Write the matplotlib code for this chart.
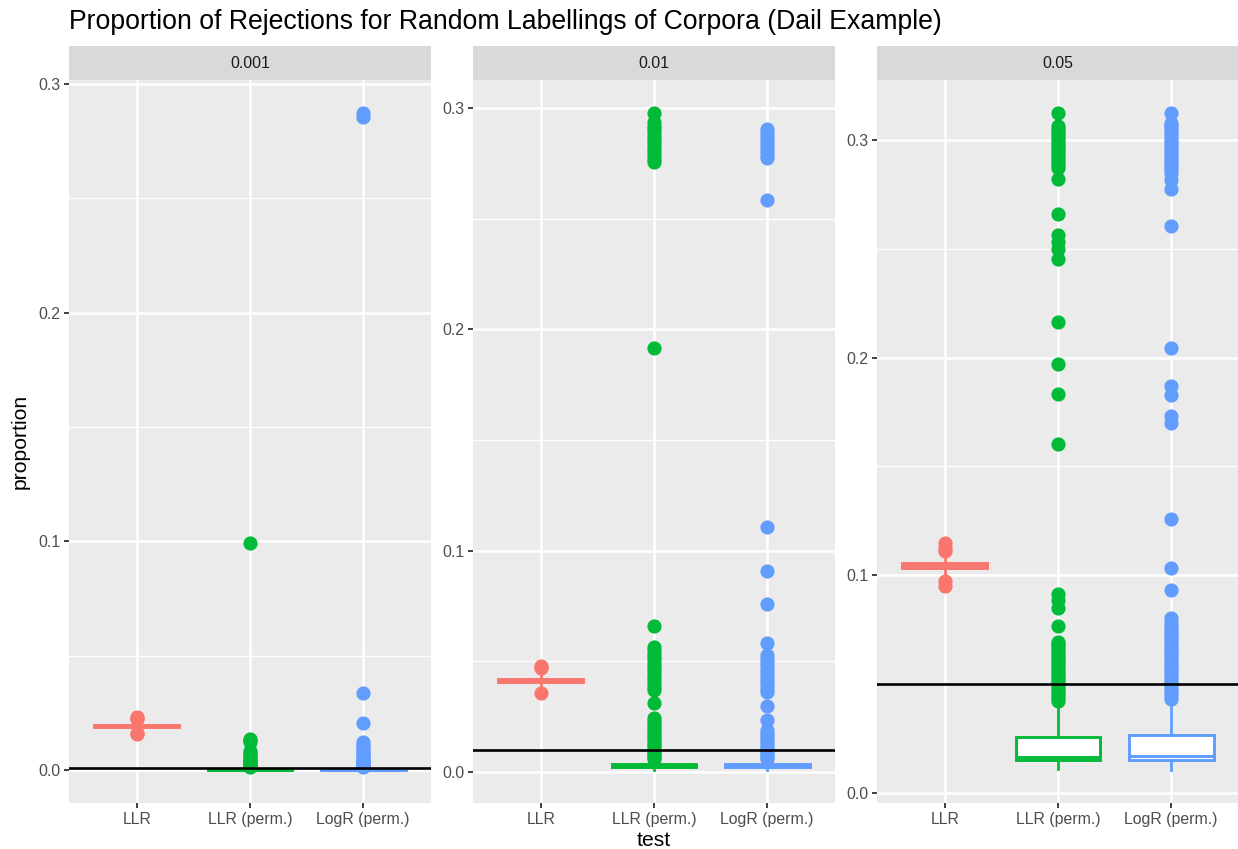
import numpy as np
import matplotlib.pyplot as plt
from matplotlib.ticker import FormatStrFormatter

plt.rcParams['font.family'] = ['Liberation Sans', 'DejaVu Sans']

# Categories and facet levels
tests = ['LLR', 'LLR (perm.)', 'LogR (perm.)']
alpha_labels = ['0.001', '0.01', '0.05']
alpha_values = [0.001, 0.01, 0.05]
colors = ['#F8766D', '#00BA38', '#619CFF']

# Box summaries: (lower whisker, q1, median, q3, upper whisker)
stats_001 = [[0.0180, 0.0188, 0.0193, 0.0199, 0.0208],
             [0.0000, 0.0000, 0.0001, 0.0005, 0.0010],
             [0.0000, 0.0000, 0.0001, 0.0005, 0.0010]]
stats_01 = [[0.0392, 0.0408, 0.0414, 0.0420, 0.0440],
            [0.0009, 0.0023, 0.0030, 0.0036, 0.0055],
            [0.0009, 0.0023, 0.0030, 0.0036, 0.0055]]
stats_05 = [[0.0995, 0.1033, 0.1045, 0.1057, 0.1090],
            [0.0109, 0.0150, 0.0163, 0.0255, 0.0400],
            [0.0104, 0.0150, 0.0168, 0.0265, 0.0420]]

# Outliers, alpha = 0.001
fliers_001_llr = [0.0157, 0.0162, 0.0225, 0.0229, 0.0233]
fliers_001_llrp = [0.0013, 0.0017, 0.0021, 0.0026, 0.0030, 0.0035, 0.0039, 0.0044,
                   0.0050, 0.0057, 0.0065, 0.0074, 0.0084, 0.0122, 0.0130, 0.0135, 0.0994]
fliers_001_logr = [0.0013, 0.0017, 0.0022, 0.0026, 0.0031, 0.0035, 0.0040, 0.0046,
                   0.0052, 0.0058, 0.0066, 0.0074, 0.0083, 0.0092, 0.0101, 0.0112,
                   0.0123, 0.0206, 0.0339, 0.2857, 0.2874]

# Outliers, alpha = 0.01
fliers_01_llr = [0.0359, 0.0470, 0.0476, 0.0480]
fliers_01_llrp = [0.0061, 0.0068, 0.0076, 0.0085, 0.0095, 0.0105, 0.0116, 0.0128,
                  0.0140, 0.0152, 0.0165, 0.0178, 0.0191, 0.0204, 0.0217, 0.0230,
                  0.0243, 0.0314, 0.0369, 0.0385, 0.0400, 0.0415, 0.0430, 0.0445,
                  0.0460, 0.0475, 0.0490, 0.0505, 0.0520, 0.0535, 0.0550, 0.0565,
                  0.0659, 0.1916, 0.2757, 0.2770, 0.2784, 0.2800, 0.2815, 0.2830,
                  0.2845, 0.2860, 0.2875, 0.2890, 0.2905, 0.2920, 0.2937, 0.2978]
fliers_01_logr = [0.0061, 0.0068, 0.0076, 0.0085, 0.0094, 0.0104, 0.0115, 0.0126,
                  0.0138, 0.0150, 0.0163, 0.0176, 0.0189, 0.0234, 0.0297, 0.0362,
                  0.0377, 0.0392, 0.0407, 0.0422, 0.0437, 0.0452, 0.0467, 0.0482,
                  0.0497, 0.0512, 0.0527, 0.0584, 0.0760, 0.0910, 0.1108, 0.2584,
                  0.2772, 0.2785, 0.2800, 0.2815, 0.2830, 0.2845, 0.2860, 0.2875,
                  0.2890, 0.2907]

# Outliers, alpha = 0.05
fliers_05_llr = [0.0950, 0.0972, 0.1110, 0.1125, 0.1148]
fliers_05_llrp = [0.0422, 0.0435, 0.0448, 0.0461, 0.0474, 0.0487, 0.0500, 0.0513,
                  0.0526, 0.0539, 0.0552, 0.0565, 0.0578, 0.0591, 0.0604, 0.0617,
                  0.0630, 0.0643, 0.0656, 0.0669, 0.0682, 0.0694, 0.0766, 0.0847,
                  0.0885, 0.0914, 0.1601, 0.1835, 0.1972, 0.2165, 0.2454, 0.2500,
                  0.2530, 0.2564, 0.2660, 0.2823, 0.2870, 0.2883, 0.2896, 0.2909,
                  0.2922, 0.2935, 0.2948, 0.2961, 0.2974, 0.2987, 0.3000, 0.3013,
                  0.3026, 0.3039, 0.3052, 0.3065, 0.3125]
fliers_05_logr = [0.0433, 0.0446, 0.0459, 0.0472, 0.0485, 0.0498, 0.0511, 0.0524,
                  0.0537, 0.0550, 0.0563, 0.0576, 0.0589, 0.0602, 0.0615, 0.0628,
                  0.0641, 0.0654, 0.0667, 0.0680, 0.0693, 0.0706, 0.0719, 0.0732,
                  0.0745, 0.0758, 0.0771, 0.0784, 0.0804, 0.0930, 0.1034, 0.1260,
                  0.1700, 0.1734, 0.1830, 0.1870, 0.2046, 0.2606, 0.2777, 0.2815,
                  0.2850, 0.2863, 0.2876, 0.2889, 0.2902, 0.2915, 0.2928, 0.2941,
                  0.2954, 0.2967, 0.2980, 0.2993, 0.3006, 0.3019, 0.3032, 0.3045,
                  0.3058, 0.3071, 0.3080, 0.3125]

panel_stats = [stats_001, stats_01, stats_05]
panel_fliers = [[fliers_001_llr, fliers_001_llrp, fliers_001_logr],
                [fliers_01_llr, fliers_01_llrp, fliers_01_logr],
                [fliers_05_llr, fliers_05_llrp, fliers_05_logr]]

W, H = 1238, 849
fig = plt.figure(figsize=(W / 100, H / 100), dpi=100)


def add_px_axes(x0, y0, x1, y1):
    return fig.add_axes([x0 / W, 1 - y1 / H, (x1 - x0) / W, (y1 - y0) / H])


panel_left = [69, 473, 877]
panel_right = [431, 835, 1239]
top, bottom, strip_top = 80, 803, 46

for k in range(3):
    ax = add_px_axes(panel_left[k], top, panel_right[k], bottom)
    ax.set_facecolor('#EBEBEB')
    for sp in ax.spines.values():
        sp.set_visible(False)

    for i in range(3):
        s = panel_stats[k][i]
        st = dict(whislo=s[0], q1=s[1], med=s[2], q3=s[3], whishi=s[4],
                  fliers=panel_fliers[k][i])
        ax.bxp([st], positions=[i + 1], widths=0.75, patch_artist=True,
               showcaps=False, manage_ticks=False, zorder=3,
               boxprops=dict(facecolor='white', edgecolor=colors[i], linewidth=2.1),
               medianprops=dict(color=colors[i], linewidth=2.1),
               whiskerprops=dict(color=colors[i], linewidth=2.0),
               flierprops=dict(marker='o', markerfacecolor=colors[i],
                               markeredgecolor=colors[i], markersize=9.2,
                               linestyle='none', zorder=2.5))

    ax.axhline(alpha_values[k], color='black', lw=1.9, zorder=5)

    # free y scale with 5% expansion, like ggplot
    vals = [alpha_values[k]]
    for i in range(3):
        vals += panel_stats[k][i] + panel_fliers[k][i]
    lo, hi = min(vals), max(vals)
    pad = 0.05 * (hi - lo)
    ax.set_ylim(lo - pad, hi + pad)
    ax.set_xlim(0.4, 3.6)

    ax.set_xticks([1, 2, 3])
    ax.set_xticklabels(tests)
    ax.set_yticks([0.0, 0.1, 0.2, 0.3])
    ax.set_yticks([0.05, 0.15, 0.25], minor=True)
    ax.yaxis.set_major_formatter(FormatStrFormatter('%.1f'))
    ax.set_axisbelow(True)
    ax.grid(which='major', color='white', lw=1.8)
    ax.grid(which='minor', axis='y', color='white', lw=0.9)
    ax.tick_params(which='minor', length=0)
    ax.tick_params(which='major', length=3.6, width=1.3, color='#333333',
                   labelcolor='#4D4D4D', labelsize=11.4, pad=2.8)

    # facet strip
    sax = add_px_axes(panel_left[k], strip_top, panel_right[k], top)
    sax.set_facecolor('#D9D9D9')
    sax.set_xticks([])
    sax.set_yticks([])
    for sp in sax.spines.values():
        sp.set_visible(False)
    sax.text(0.5, 0.5, alpha_labels[k], ha='center', va='center',
             fontsize=11.4, color='#1A1A1A', transform=sax.transAxes)

fig.text(69 / W, 1 - 29 / H, 'Proportion of Rejections for Random Labellings of Corpora (Dail Example)',
         fontsize=19.2, color='black', ha='left', va='baseline')
fig.text(20 / W, 1 - 441 / H, 'proportion', rotation=90, fontsize=15.2,
         ha='center', va='center')
fig.text(654 / W, 1 - 841 / H, 'test', fontsize=15.2, ha='center', va='center')

fig.savefig('out.png', dpi=100)
